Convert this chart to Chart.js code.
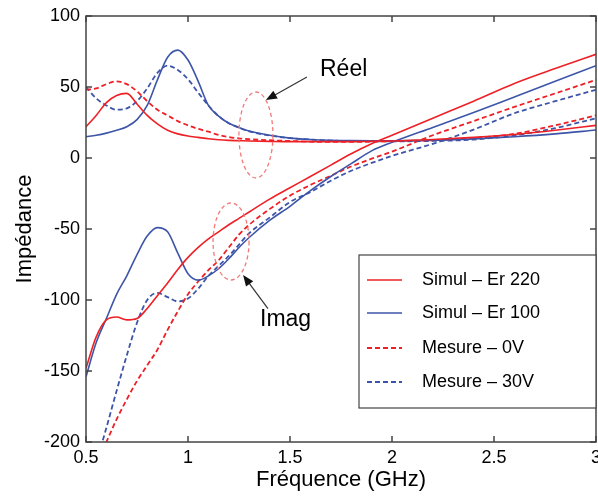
<!DOCTYPE html>
<html>
<head>
<meta charset="utf-8">
<script src="https://cdn.jsdelivr.net/npm/chart.js"></script>
<style>
  html, body { margin: 0; padding: 0; background: #fff; }
  canvas { display: block; }
</style>
</head>
<body>
<canvas id="chart" width="598" height="497"></canvas>
<script>
// fréquences (GHz), communes à toutes les courbes
const freq = [0.5, 0.55, 0.6, 0.65, 0.7, 0.75, 0.8, 0.85, 0.9, 0.95, 1.0, 1.05, 1.1, 1.15, 1.2, 1.25, 1.3, 1.4, 1.5, 1.6, 1.7, 1.8, 1.9, 2.0, 2.2, 2.4, 2.6, 2.8, 3.0];

// partie réelle
const reelSimul220 = [22, 30, 39, 44, 45.5, 38, 30, 24, 19.5, 17, 15.5, 14.5, 13.5, 12.8, 12.4, 12.2, 12, 11.7, 11.5, 11.5, 11.5, 11.5, 11.8, 12, 13, 14.5, 16.5, 19.5, 23];
const reelSimul100 = [15, 16, 17.5, 19.5, 22, 27, 37, 55, 71, 76, 69, 54, 37, 29.5, 24.5, 21.5, 19, 16, 14, 13, 12.5, 12.3, 12.2, 12.2, 12.5, 13.5, 15, 17, 19.7];
const reelMesure0V = [48, 49, 52, 54, 52, 47, 40, 34, 30, 26, 23, 20.5, 18.5, 16.2, 14.8, 13.8, 13.2, 12.5, 12, 11.5, 11.3, 11.3, 11.5, 11.8, 12.5, 14, 17, 23, 30];
const reelMesure30V = [50, 42, 37, 34, 35, 40, 49, 60, 65, 62, 55.5, 46, 37, 29.5, 24.5, 21.3, 18.8, 15.8, 14, 13, 12.3, 12, 11.8, 11.8, 12, 13, 16, 21, 28];

// partie imaginaire
const imagSimul220 = [-148, -126, -114, -112, -114, -113, -106, -97, -88, -78.5, -70, -63, -57, -52, -47, -42.5, -38, -29, -21, -13, -5, 3, 10, 16, 28, 40, 52.5, 63, 73];
const imagSimul100 = [-154, -130, -113, -96, -83, -68, -55, -49, -52, -67, -81.5, -86, -83, -78, -71, -63, -56, -44, -34, -23, -13, -4, 5, 11, 21.5, 32, 43, 54, 65];
const imagMesure0V = [null, -216, -200, -184, -170, -157, -146, -135, -121, -108, -96, -87, -79, -72, -63, -54, -47, -36, -26.5, -19, -12.5, -6, -0.5, 4.5, 16, 26, 36, 45.5, 55];
const imagMesure30V = [null, -215, -190, -164, -139, -116, -100, -95, -98, -101, -99, -92, -83, -76, -69, -61, -53, -42, -31, -24, -16, -9, -3.5, 1.5, 10, 20, 31.5, 40, 48];

const xTicks = [0.5, 1, 1.5, 2, 2.5, 3];
const yTicks = [100, 50, 0, -50, -100, -150, -200];

const legendLabels = ['Simul \u2013 Er 220', 'Simul \u2013 Er 100', 'Mesure \u2013 0V', 'Mesure \u2013 30V'];

const RED = '#ee2026';
const BLUE = '#3d55a8';
const DASH = [5, 3];

function pts(values) {
  return freq.map((f, i) => ({ x: f, y: values[i] }));
}

function line(values, color, dashed) {
  return {
    data: pts(values),
    borderColor: color,
    borderWidth: dashed ? 1.8 : 1.6,
    borderDash: dashed ? DASH : [],
    pointRadius: 0,
    fill: false,
    cubicInterpolationMode: 'monotone',
    spanGaps: false,
  };
}

const datasets = [
  line(reelSimul220, RED, false),
  line(reelSimul100, BLUE, false),
  line(reelMesure0V, RED, true),
  line(reelMesure30V, BLUE, true),
  line(imagSimul220, RED, false),
  line(imagSimul100, BLUE, false),
  line(imagMesure0V, RED, true),
  line(imagMesure30V, BLUE, true),
];

// cadre, graduations vers l'intérieur sur les 4 côtés
const framePlugin = {
  id: 'frame',
  afterDatasetsDraw(chart) {
    const { ctx, chartArea: a, scales } = chart;
    const tl = 6;
    ctx.save();
    ctx.strokeStyle = '#444';
    ctx.lineWidth = 1.5;
    ctx.strokeRect(a.left, a.top, a.right - a.left, a.bottom - a.top);
    ctx.beginPath();
    for (const v of xTicks) {
      const x = scales.x.getPixelForValue(v);
      ctx.moveTo(x, a.bottom); ctx.lineTo(x, a.bottom - tl);
      ctx.moveTo(x, a.top); ctx.lineTo(x, a.top + tl);
    }
    for (const v of yTicks) {
      const y = scales.y.getPixelForValue(v);
      ctx.moveTo(a.left, y); ctx.lineTo(a.left + tl, y);
      ctx.moveTo(a.right, y); ctx.lineTo(a.right - tl, y);
    }
    ctx.stroke();
    ctx.restore();
  },
};

function arrow(ctx, x1, y1, x2, y2) {
  const ang = Math.atan2(y2 - y1, x2 - x1);
  const hl = 11, hw = 4.5;
  ctx.beginPath();
  ctx.moveTo(x1, y1);
  ctx.lineTo(x2 - Math.cos(ang) * hl * 0.8, y2 - Math.sin(ang) * hl * 0.8);
  ctx.stroke();
  ctx.beginPath();
  ctx.moveTo(x2, y2);
  ctx.lineTo(x2 - Math.cos(ang) * hl - Math.sin(ang) * hw, y2 - Math.sin(ang) * hl + Math.cos(ang) * hw);
  ctx.lineTo(x2 - Math.cos(ang) * hl + Math.sin(ang) * hw, y2 - Math.sin(ang) * hl - Math.cos(ang) * hw);
  ctx.closePath();
  ctx.fill();
}

// ellipses, flèches et textes "Réel" / "Imag"
const notesPlugin = {
  id: 'notes',
  afterDatasetsDraw(chart) {
    const { ctx, scales } = chart;
    const X = (v) => scales.x.getPixelForValue(v);
    const Y = (v) => scales.y.getPixelForValue(v);
    ctx.save();
    ctx.strokeStyle = '#f27a7a';
    ctx.lineWidth = 1.3;
    ctx.setLineDash([4, 3]);
    ctx.beginPath();
    ctx.ellipse(X(1.333), Y(16.2), 17, 43, 0, 0, Math.PI * 2);
    ctx.stroke();
    ctx.beginPath();
    ctx.ellipse(X(1.211), Y(-58.8), 18, 38.5, 0, 0, Math.PI * 2);
    ctx.stroke();
    ctx.setLineDash([]);

    ctx.strokeStyle = '#333';
    ctx.fillStyle = '#111';
    ctx.lineWidth = 1.2;
    arrow(ctx, X(1.583), Y(57), X(1.382), Y(40.8));
    arrow(ctx, X(1.392), Y(-106), X(1.27), Y(-82.4));

    ctx.fillStyle = '#000';
    ctx.font = '23px "Liberation Sans", Arial, sans-serif';
    ctx.textBaseline = 'middle';
    ctx.textAlign = 'left';
    ctx.fillText('Réel', X(1.647), Y(62));
    ctx.fillText('Imag', X(1.353), Y(-113.5));
    ctx.restore();
  },
};

// légende encadrée dans le graphique
const legendPlugin = {
  id: 'boxLegend',
  afterDraw(chart) {
    const { ctx, chartArea: a } = chart;
    const bx = 359, by = 255, bw = a.right - 359, bh = 153;
    ctx.save();
    ctx.fillStyle = '#fff';
    ctx.fillRect(bx, by, bw, bh);
    ctx.strokeStyle = '#444';
    ctx.lineWidth = 1.2;
    ctx.strokeRect(bx, by, bw, bh);
    ctx.font = '18px "Liberation Sans", Arial, sans-serif';
    ctx.textBaseline = 'middle';
    ctx.textAlign = 'left';
    const rows = [280, 313, 348, 382];
    legendLabels.forEach((label, i) => {
      const ds = chart.data.datasets[i];
      ctx.strokeStyle = ds.borderColor;
      ctx.lineWidth = ds.borderWidth;
      ctx.setLineDash(ds.borderDash);
      ctx.beginPath();
      ctx.moveTo(367, rows[i]);
      ctx.lineTo(402, rows[i]);
      ctx.stroke();
      ctx.setLineDash([]);
      ctx.fillStyle = '#000';
      ctx.fillText(label, 422, rows[i]);
    });
    ctx.restore();
  },
};

const tickFont = { family: '"Liberation Sans", Arial, sans-serif', size: 18 };
const titleFont = { family: '"Liberation Sans", Arial, sans-serif', size: 22 };

new Chart(document.getElementById('chart').getContext('2d'), {
  type: 'line',
  data: { datasets },
  options: {
    responsive: false,
    animation: false,
    devicePixelRatio: 1,
    layout: { padding: { top: 16, right: 2, left: 0, bottom: 0 } },
    plugins: {
      legend: { display: false },
      tooltip: { enabled: false },
    },
    scales: {
      x: {
        type: 'linear',
        min: 0.5,
        max: 3,
        afterBuildTicks: (s) => { s.ticks = xTicks.map(v => ({ value: v })); },
        afterFit: (s) => { s.height = 55; s.paddingLeft = 0; s.paddingRight = 0; },
        grid: { display: false, drawTicks: false },
        border: { display: false },
        ticks: { color: '#000', font: tickFont, padding: 5, maxRotation: 0, autoSkip: false, callback: (v) => String(v) },
        title: { display: true, text: 'Fréquence (GHz)', color: '#000', font: titleFont, padding: { bottom: 4, top: 0 } },
      },
      y: {
        type: 'linear',
        min: -200,
        max: 100,
        afterBuildTicks: (s) => { s.ticks = yTicks.map(v => ({ value: v })); },
        afterFit: (s) => { s.width = 86; s.paddingTop = 0; s.paddingBottom = 0; },
        grid: { display: false, drawTicks: false },
        border: { display: false },
        ticks: { color: '#000', font: tickFont, padding: 6, autoSkip: false, callback: (v) => String(v) },
        title: { display: true, text: 'Impédance', color: '#000', font: titleFont, padding: { top: 12, bottom: 0 } },
      },
    },
  },
  plugins: [framePlugin, notesPlugin, legendPlugin],
});
</script>
</body>
</html>
